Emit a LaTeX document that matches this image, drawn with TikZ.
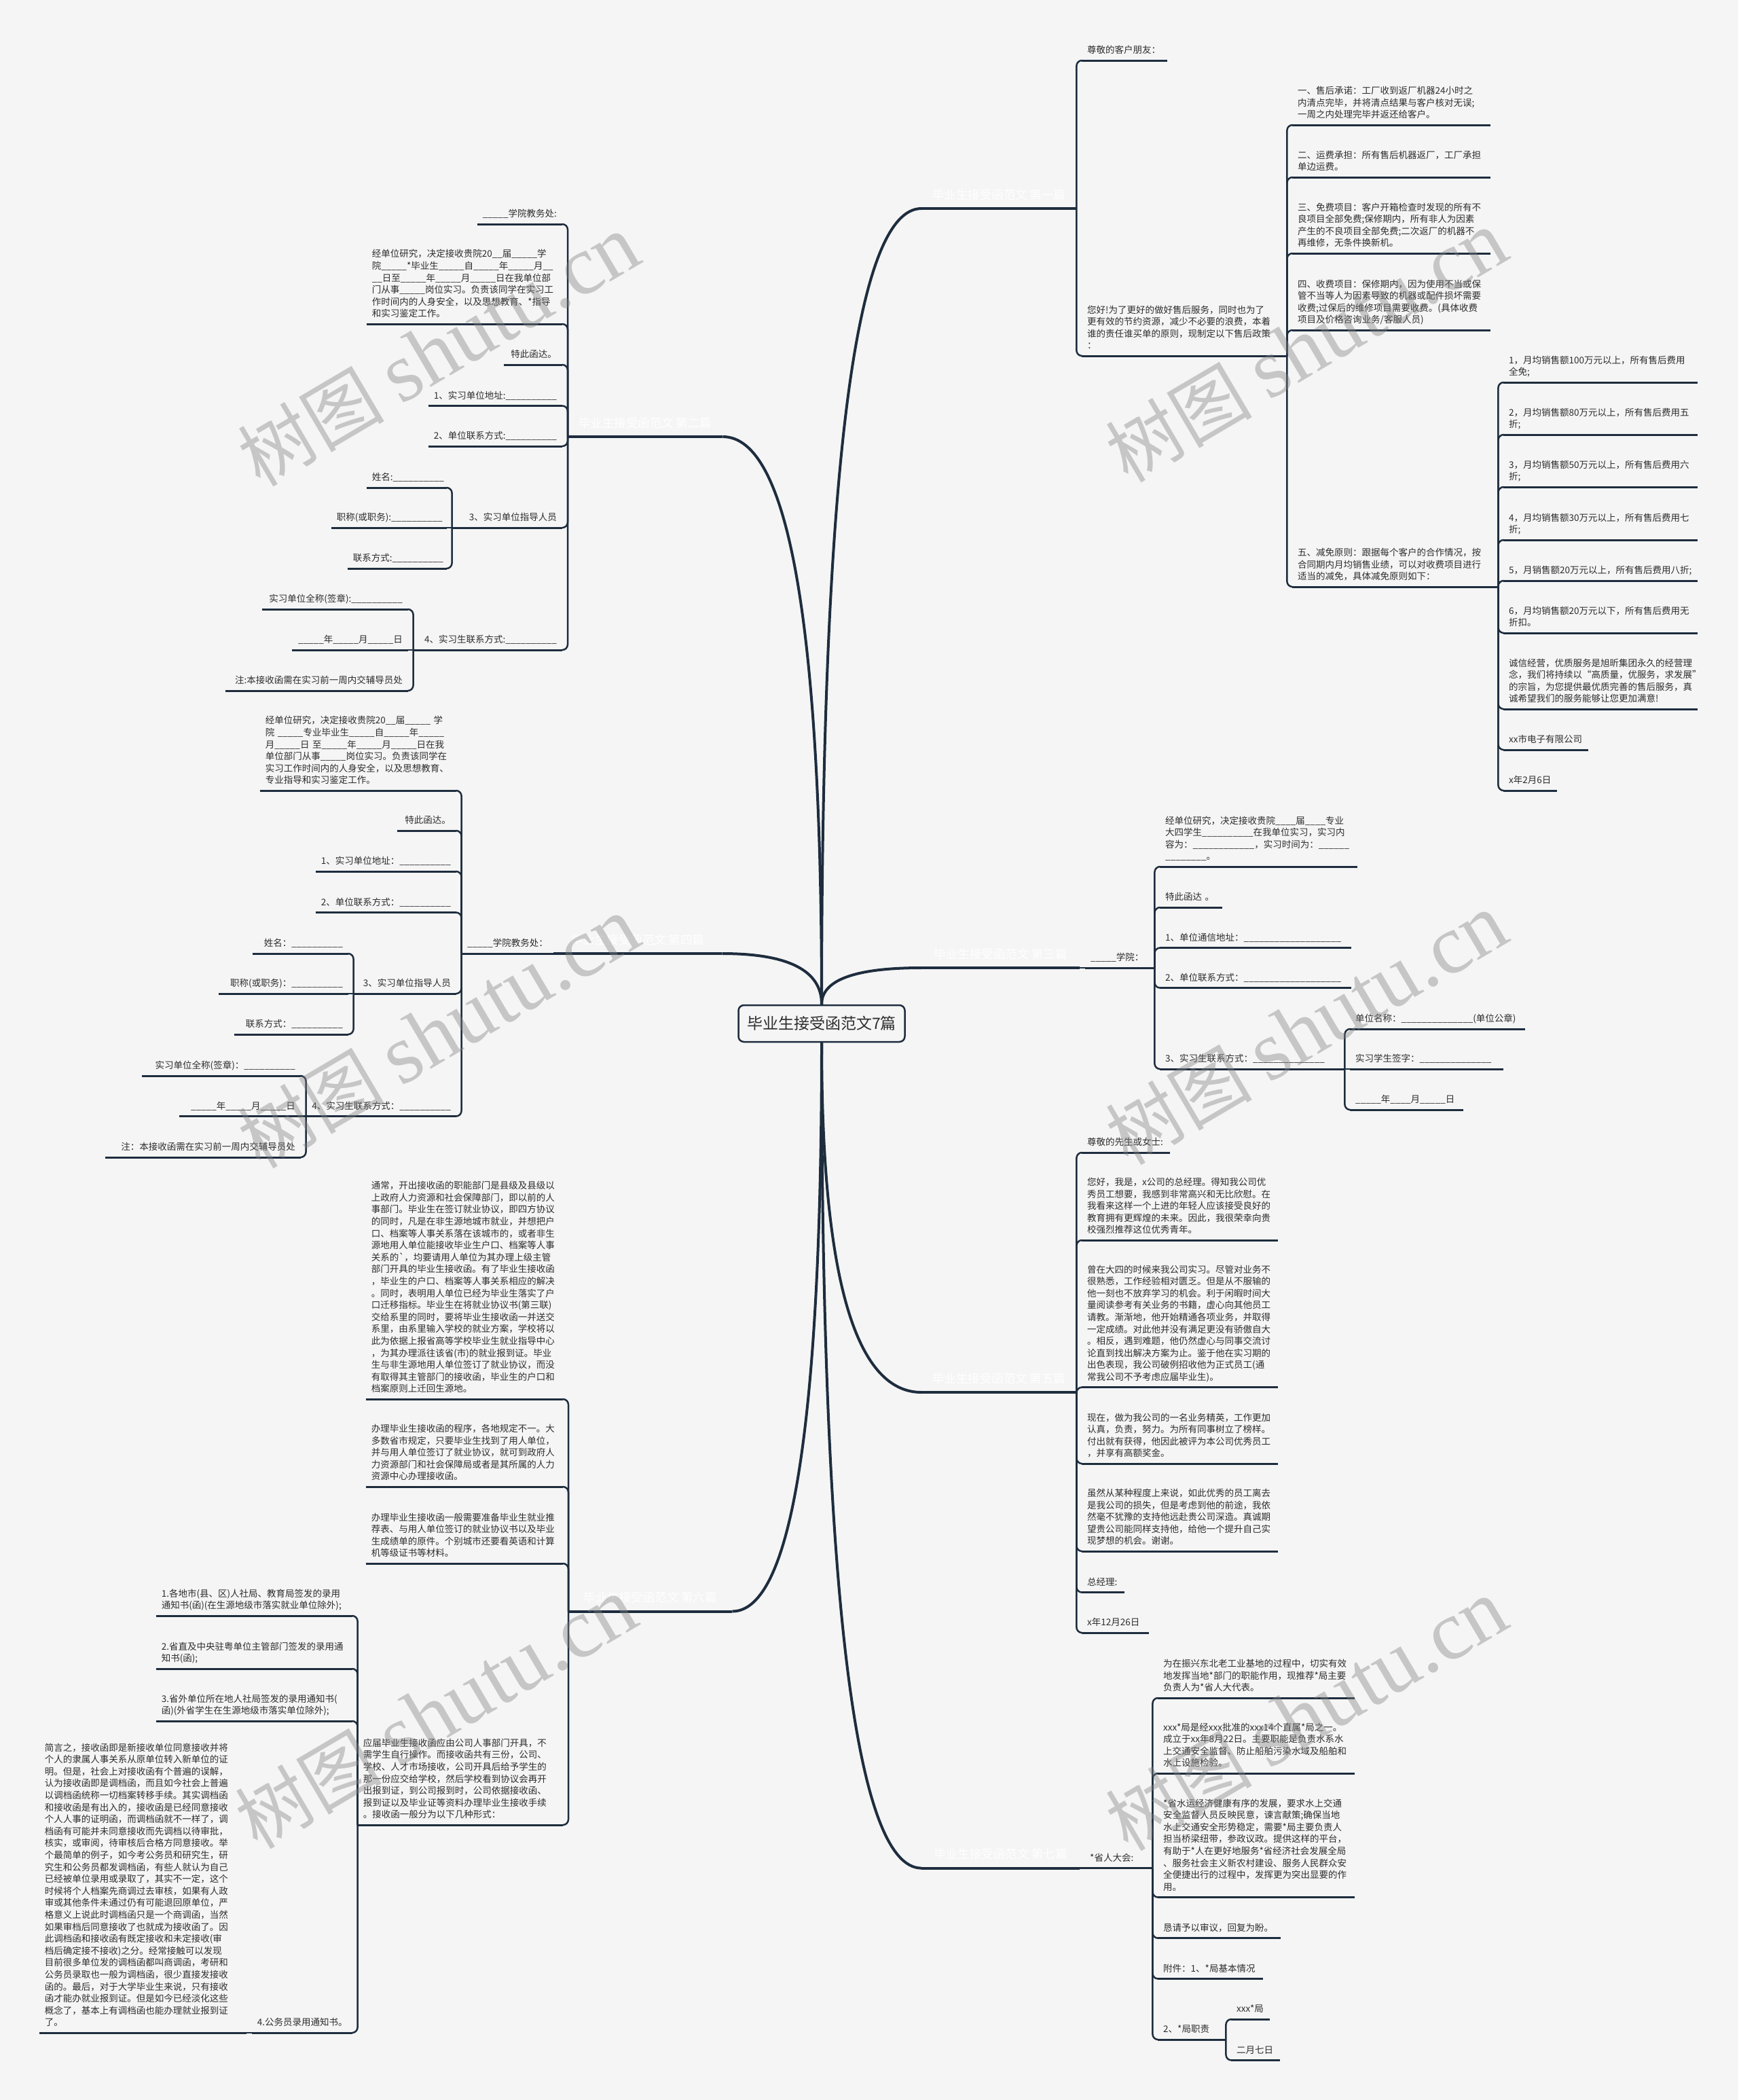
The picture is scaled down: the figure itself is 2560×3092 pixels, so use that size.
\documentclass[tikz,border=0pt]{standalone}
\usepackage{fontspec}
\setmainfont{Noto Sans CJK SC}
\newfontfamily\wmserif[Scale=1.15]{Liberation Serif}
\usetikzlibrary{calc}
\definecolor{bgc}{RGB}{245,245,245}
\definecolor{lnc}{RGB}{30,45,62}
\definecolor{txc}{RGB}{45,45,45}
\newcount\uscount
\newcommand\us[1]{\setbox0\hbox{\_}\uscount=\numexpr\dimexpr#1pt\relax/\wd0\relax\loop\ifnum\uscount>0 \_\advance\uscount-1 \repeat}
\pgfdeclarelayer{back}
\pgfdeclarelayer{conn}
\pgfdeclarelayer{front}
\pgfsetlayers{back,conn,main,front}
\tikzset{
  ulline/.style={draw=lnc,line width=3pt},
  trunkline/.style={draw=lnc,line width=4pt},
  br/.style={draw=lnc,line width=2.5pt,rounded corners=8pt},
  base/.style={font=\fontsize{13.5}{17.6}\selectfont,text=txc,inner xsep=8pt,inner ysep=4.7pt,
    execute at end node=\strut,
    append after command={(\tikzlastnode.south west) edge[ulline] (\tikzlastnode.south east)}},
  rn/.style={base,align=left},
  ln/.style={base,align=right},
  lbl/.style={font=\fontsize{17.5}{22}\selectfont,text=white,inner xsep=0pt,inner ysep=7pt,
    execute at end node=\strut,
    append after command={(\tikzlastnode.south west) edge[trunkline] (\tikzlastnode.south east)}},
  wm/.style={text=black!50,text opacity=0.4,rotate=30.5,font=\fontsize{108}{120}\selectfont,inner sep=0pt},
}
\newcommand\RNode[6][]{\node[rn,#1,text width=\the\numexpr#4-#3-16\relax pt,anchor=south west] (#2) at (#3,#5) {#6};}
\newcommand\LNode[6][]{\node[ln,#1,text width=\the\numexpr#4-#3-16\relax pt,anchor=south east] (#2) at (#4,#5) {#6};}
\newcommand\trunk[2]{\draw[trunkline] (#1) .. controls ($(#1)!0.6667!(#1 |- #2)$) and ($(#2)!0.6667!(#1 |- #2)$) .. (#2);}
\begin{document}
\begin{tikzpicture}[x=1pt,y=-1pt]
\begin{pgfonlayer}{back}
\fill[bgc] (0,0) rectangle (2560,3092);
\end{pgfonlayer}
\useasboundingbox (0,0) rectangle (2560,3092);

% centre
\node[draw=lnc,line width=2.5pt,fill=bgc,rounded corners=8pt,minimum width=245pt,minimum height=54pt,
  inner sep=0pt,font=\fontsize{23}{28}\selectfont,text=txc] (T) at (1210,1507) {毕业生接受函范文7篇};

% ---------- branch 1 ----------
\node[lbl,minimum width=228pt,anchor=south west] (L1) at (1357,307) {毕业生接受函范文 第一篇};
\RNode{a1}{1593}{1719}{89}{尊敬的客户朋友：}
\RNode{a2}{1593}{1895}{524}{您好!为了更好的做好售后服务，同时也为了\\更有效的节约资源，减少不必要的浪费，本着\\谁的责任谁买单的原则，现制定以下售后政策\\：}
\RNode{a21}{1903}{2195}{184}{一、售后承诺：工厂收到返厂机器24小时之\\内清点完毕，并将清点结果与客户核对无误;\\一周之内处理完毕并返还给客户。}
\RNode{a22}{1903}{2195}{261}{二、运费承担：所有售后机器返厂，工厂承担\\单边运费。}
\RNode{a23}{1903}{2195}{373}{三、免费项目：客户开箱检查时发现的所有不\\良项目全部免费;保修期内，所有非人为因素\\产生的不良项目全部免费;二次返厂的机器不\\再维修，无条件换新机。}
\RNode{a24}{1903}{2195}{486}{四、收费项目：保修期内，因为使用不当或保\\管不当等人为因素导致的机器或配件损坏需要\\收费;过保后的维修项目需要收费。(具体收费\\项目及价格咨询业务/客服人员)}
\RNode{a25}{1903}{2206}{864}{五、减免原则：跟据每个客户的合作情况，按\\合同期内月均销售业绩，可以对收费项目进行\\适当的减免，具体减免原则如下：}
\RNode{a251}{2214}{2500}{563}{1，月均销售额100万元以上，所有售后费用\\全免;}
\RNode{a252}{2214}{2500}{640}{2，月均销售额80万元以上，所有售后费用五\\折;}
\RNode{a253}{2214}{2500}{717}{3，月均销售额50万元以上，所有售后费用六\\折;}
\RNode{a254}{2214}{2500}{795}{4，月均销售额30万元以上，所有售后费用七\\折;}
\RNode{a255}{2214}{2500}{855}{5，月销售额20万元以上，所有售后费用八折;}
\RNode{a256}{2214}{2500}{932}{6，月均销售额20万元以下，所有售后费用无\\折扣。}
\RNode{a257}{2214}{2500}{1044}{诚信经营，优质服务是旭昕集团永久的经营理\\念，我们将持续以“高质量，优服务，求发展”\\的宗旨，为您提供最优质完善的售后服务，真\\诚希望我们的服务能够让您更加满意!}
\RNode{a258}{2214}{2339}{1104}{xx市电子有限公司}
\RNode{a259}{2214}{2293}{1164}{x年2月6日}

% ---------- branch 2 ----------
\node[lbl,minimum width=228pt,anchor=south west] (L2) at (836,643) {毕业生接受函范文 第二篇};
\LNode{b1}{703}{828}{330}{\us{35}学院教务处:}
\LNode[align=left]{b2}{540}{828}{477}{经单位研究，决定接收贵院20\us{16}届\us{36}学\\院\us{36}*毕业生\us{36}自\us{36}年\us{36}月\us{16}\\\us{16}日至\us{36}年\us{36}月\us{36}日在我单位部\\门从事\us{36}岗位实习。负责该同学在实习工\\作时间内的人身安全，以及思想教育、*指导\\和实习鉴定工作。}
\LNode{b3}{742}{828}{537}{特此函达。}
\LNode{b4}{631}{828}{597.5}{1、实习单位地址:\us{73}}
\LNode{b5}{631}{828}{657}{2、单位联系方式:\us{73}}
\LNode{b6}{666}{828}{777}{3、实习单位指导人员}
\LNode{b61}{540}{658}{718}{姓名:\us{72}}
\LNode{b62}{488}{658}{777}{职称(或职务):\us{72}}
\LNode{b63}{512}{658}{837}{联系方式:\us{72}}
\LNode{b7}{609}{828}{957}{4、实习生联系方式:\us{73}}
\LNode{b71}{386}{601}{897}{实习单位全称(签章):\us{73}}
\LNode{b72}{430}{601}{957}{\us{37}年\us{36}月\us{36}日}
\LNode{b73}{332}{601}{1017}{注:本接收函需在实习前一周内交辅导员处}

% ---------- branch 3 ----------
\node[lbl,minimum width=233pt,anchor=south west] (L3) at (1357,1425) {毕业生接受函范文 第三篇};
\RNode{c0}{1598}{1700}{1425}{\us{34}学院：}
\RNode{c1}{1708}{1999}{1276}{经单位研究，决定接收贵院\us{33}届\us{27}专业\\大四学生\us{72}在我单位实习，实习内\\容为：\us{88}，实习时间为：\us{42}\\\us{59}。}
\RNode{c2}{1708}{1800}{1336}{特此函达 。}
\RNode{c3}{1708}{1990}{1395.5}{1、单位通信地址：\us{145}}
\RNode{c4}{1708}{1990}{1454.5}{2、单位联系方式：\us{145}}
\RNode{c5}{1708}{1980}{1574}{3、实习生联系方式：\us{107}}
\RNode{c51}{1988}{2246}{1515}{单位名称：\us{109}(单位公章)}
\RNode{c52}{1988}{2214}{1574}{实习学生签字：\us{109}}
\RNode{c53}{1988}{2155}{1634}{\us{34}年\us{32}月\us{35}日}

% ---------- branch 4 ----------
\node[lbl,minimum width=248pt,anchor=south west] (L4) at (815,1404) {毕业生接受函范文 第四篇};
\LNode{d0}{680}{815}{1404}{\us{37}学院教务处：}
\LNode[align=left]{d1}{383}{672}{1164}{经单位研究，决定接收贵院20\us{16}届\us{36}~学\\院~\us{36}专业毕业生\us{36}自\us{36}年\us{36}\\月\us{36}日~至\us{36}年\us{36}月\us{36}日在我\\单位部门从事\us{36}岗位实习。负责该同学在\\实习工作时间内的人身安全，以及思想教育、\\专业指导和实习鉴定工作。}
\LNode{d2}{585}{672}{1223}{特此函达。}
\LNode{d3}{465}{672}{1283}{1、实习单位地址：\us{73}}
\LNode{d4}{465}{672}{1343.5}{2、单位联系方式：\us{73}}
\LNode{d5}{521}{672}{1463}{3、实习单位指导人员}
\LNode{d51}{372}{513}{1404}{姓名：\us{72}}
\LNode{d52}{322}{513}{1463}{职称(或职务)：\us{72}}
\LNode{d53}{345}{513}{1523}{联系方式：\us{72}}
\LNode{d6}{451}{672}{1643.5}{4、实习生联系方式：\us{73}}
\LNode{d61}{209}{443}{1584}{实习单位全称(签章)：\us{72}}
\LNode{d62}{264}{443}{1643.5}{\us{35}年\us{34}月\us{34}日}
\LNode{d63}{155}{443}{1704}{注：本接收函需在实习前一周内交辅导员处}

% ---------- branch 5 ----------
\node[lbl,minimum width=228pt,anchor=south west] (L5) at (1357,2050) {毕业生接受函范文 第五篇};
\RNode{e1}{1593}{1723}{1697}{尊敬的先生或女士:}
\RNode{e2}{1593}{1882}{1826}{您好，我是，x公司的总经理。得知我公司优\\秀员工想要，我感到非常高兴和无比欣慰。在\\我看来这样一个上进的年轻人应该接受良好的\\教育拥有更辉煌的未来。因此，我很荣幸向贵\\校强烈推荐这位优秀青年。}
\RNode{e3}{1593}{1882}{2042.6}{曾在大四的时候来我公司实习。尽管对业务不\\很熟悉，工作经验相对匮乏。但是从不服输的\\他一刻也不放弃学习的机会。利于闲暇时间大\\量阅读参考有关业务的书籍，虚心向其他员工\\请教。渐渐地，他开始精通各项业务，并取得\\一定成绩。对此他并没有满足更没有骄傲自大\\。相反，遇到难题，他仍然虚心与同事交流讨\\论直到找出解决方案为止。鉴于他在实习期的\\出色表现，我公司破例招收他为正式员工(通\\常我公司不予考虑应届毕业生)。}
\RNode{e4}{1593}{1882}{2155}{现在，做为我公司的一名业务精英，工作更加\\认真，负责，努力。为所有同事树立了榜样。\\付出就有获得，他因此被评为本公司优秀员工\\，并享有高额奖金。}
\RNode{e5}{1593}{1882}{2284}{虽然从某种程度上来说，如此优秀的员工离去\\是我公司的损失，但是考虑到他的前途，我依\\然毫不犹豫的支持他远赴贵公司深造。真诚期\\望贵公司能同样支持他，给他一个提升自己实\\现梦想的机会。谢谢。}
\RNode{e6}{1593}{1656}{2344.6}{总经理:}
\RNode{e7}{1593}{1692}{2404}{x年12月26日}

% ---------- branch 6 ----------
\node[lbl,minimum width=241pt,anchor=south west] (L6) at (837,2372.5) {毕业生接受函范文 第六篇};
\LNode[align=left]{f1}{539}{829}{2060}{通常，开出接收函的职能部门是县级及县级以\\上政府人力资源和社会保障部门，即以前的人\\事部门。毕业生在签订就业协议，即四方协议\\的同时，凡是在非生源地城市就业，并想把户\\口、档案等人事关系落在该城市的，或者非生\\源地用人单位能接收毕业生户口、档案等人事\\关系的\textasciigrave，均要请用人单位为其办理上级主管\\部门开具的毕业生接收函。有了毕业生接收函\\，毕业生的户口、档案等人事关系相应的解决\\。同时，表明用人单位已经为毕业生落实了户\\口迁移指标。毕业生在将就业协议书(第三联)\\交给系里的同时，要将毕业生接收函一并送交\\系里，由系里输入学校的就业方案，学校将以\\此为依据上报省高等学校毕业生就业指导中心\\，为其办理派往该省(市)的就业报到证。毕业\\生与非生源地用人单位签订了就业协议，而没\\有取得其主管部门的接收函，毕业生的户口和\\档案原则上迁回生源地。}
\LNode[align=left]{f2}{539}{829}{2189}{办理毕业生接收函的程序，各地规定不一。大\\多数省市规定，只要毕业生找到了用人单位，\\并与用人单位签订了就业协议，就可到政府人\\力资源部门和社会保障局或者是其所属的人力\\资源中心办理接收函。}
\LNode[align=left]{f3}{539}{829}{2302}{办理毕业生接收函一般需要准备毕业生就业推\\荐表、与用人单位签订的就业协议书以及毕业\\生成绩单的原件。个别城市还要看英语和计算\\机等级证书等材料。}
\LNode[align=left]{f4}{527}{829}{2687}{应届毕业生接收函应由公司人事部门开具，不\\需学生自行操作。而接收函共有三份，公司、\\学校、人才市场接收，公司开具后给予学生的\\那一份应交给学校，然后学校看到协议会再开\\出报到证，到公司报到时，公司依据接收函、\\报到证以及毕业证等资料办理毕业生接收手续\\。接收函一般分为以下几种形式：}
\LNode[align=left]{f41}{230}{519}{2379}{1.各地市(县、区)人社局、教育局签发的录用\\通知书(函)(在生源地级市落实就业单位除外);}
\LNode[align=left]{f42}{230}{519}{2457}{2.省直及中央驻粤单位主管部门签发的录用通\\知书(函);}
\LNode[align=left]{f43}{230}{519}{2534}{3.省外单位所在地人社局签发的录用通知书(\\函)(外省学生在生源地级市落实单位除外);}
\LNode{f44}{371}{519}{2993}{4.公务员录用通知书。}
\LNode[align=left]{f441}{58}{363}{2993}{简言之，接收函即是新接收单位同意接收并将\\个人的隶属人事关系从原单位转入新单位的证\\明。但是，社会上对接收函有个普遍的误解，\\认为接收函即是调档函，而且如今社会上普遍\\以调档函统称一切档案转移手续。其实调档函\\和接收函是有出入的，接收函是已经同意接收\\个人人事的证明函，而调档函就不一样了，调\\档函有可能并未同意接收而先调档以待审批，\\核实，或审阅，待审核后合格方同意接收。举\\个最简单的例子，如今考公务员和研究生，研\\究生和公务员都发调档函，有些人就认为自己\\已经被单位录用或录取了，其实不一定，这个\\时候将个人档案先商调过去审核，如果有人政\\审或其他条件未通过仍有可能退回原单位，严\\格意义上说此时调档函只是一个商调函，当然\\如果审档后同意接收了也就成为接收函了。因\\此调档函和接收函有既定接收和未定接收(审\\档后确定接不接收)之分。经常接触可以发现\\目前很多单位发的调档函都叫商调函，考研和\\公务员录取也一般为调档函，很少直接发接收\\函的。最后，对于大学毕业生来说，只有接收\\函才能办就业报到证。但是如今已经淡化这些\\概念了，基本上有调档函也能办理就业报到证\\了。}

% ---------- branch 7 ----------
\node[lbl,minimum width=233pt,anchor=south west] (L7) at (1357,2750.6) {毕业生接受函范文 第七篇};
\RNode{g0}{1597}{1697}{2750.6}{*省人大会:}
\RNode{g1}{1705}{1995}{2500}{为在振兴东北老工业基地的过程中，切实有效\\地发挥当地*部门的职能作用，现推荐*局主要\\负责人为*省人大代表。}
\RNode{g2}{1705}{1995}{2611}{xxx*局是经xxx批准的xxx14个直属*局之一。\\成立于xx年8月22日。主要职能是负责水系水\\上交通安全监督、防止船舶污染水域及船舶和\\水上设施检验。}
\RNode{g3}{1705}{1995}{2793.5}{*省水运经济健康有序的发展，要求水上交通\\安全监督人员反映民意，谏言献策;确保当地\\水上交通安全形势稳定，需要*局主要负责人\\担当桥梁纽带，参政议政。提供这样的平台，\\有助于*人在更好地服务*省经济社会发展全局\\、服务社会主义新农村建设、服务人民群众安\\全便捷出行的过程中，发挥更为突出显要的作\\用。}
\RNode{g4}{1705}{1886}{2853.7}{恳请予以审议，回复为盼。}
\RNode{g5}{1705}{1860}{2913.5}{附件：1、*局基本情况}
\RNode{g6}{1705}{1805}{3003}{2、*局职责}
\RNode{g61}{1813}{1870}{2973}{xxx*局}
\RNode{g62}{1813}{1885}{3033.4}{二月七日}

% ---------- connectors ----------
\begin{pgfonlayer}{conn}
\trunk{T.north}{L1.south west}
\trunk{T.north}{L2.south east}
\trunk{T.north}{L3.south west}
\trunk{T.north}{L4.south east}
\trunk{T.south}{L5.south west}
\trunk{T.south}{L6.south east}
\trunk{T.south}{L7.south west}
% branch 1
\foreach \c in {a1,a2}{\draw[br] (L1.south east) |- (\c.south west);}
\foreach \c in {a21,a22,a23,a24,a25}{\draw[br] (a2.south east) |- (\c.south west);}
\foreach \c in {a251,a252,a253,a254,a255,a256,a257,a258,a259}{\draw[br] (a25.south east) |- (\c.south west);}
% branch 2
\foreach \c in {b1,b2,b3,b4,b5,b6,b7}{\draw[br] (L2.south west) |- (\c.south east);}
\foreach \c in {b61,b63}{\draw[br] (b6.south west) |- (\c.south east);}
\draw[br] (b6.south west) -- (b62.south east);
\foreach \c in {b71,b73}{\draw[br] (b7.south west) |- (\c.south east);}
\draw[br] (b7.south west) -- (b72.south east);
% branch 3
\draw[br] (L3.south east) -- (c0.south west);
\foreach \c in {c1,c2,c3,c4,c5}{\draw[br] (c0.south east) |- (\c.south west);}
\foreach \c in {c51,c53}{\draw[br] (c5.south east) |- (\c.south west);}
\draw[br] (c5.south east) -- (c52.south west);
% branch 4
\draw[br] (L4.south west) -- (d0.south east);
\foreach \c in {d1,d2,d3,d4,d5,d6}{\draw[br] (d0.south west) |- (\c.south east);}
\foreach \c in {d51,d53}{\draw[br] (d5.south west) |- (\c.south east);}
\draw[br] (d5.south west) -- (d52.south east);
\foreach \c in {d61,d63}{\draw[br] (d6.south west) |- (\c.south east);}
\draw[br] (d6.south west) -- (d62.south east);
% branch 5
\foreach \c in {e1,e2,e3,e4,e5,e6,e7}{\draw[br] (L5.south east) |- (\c.south west);}
% branch 6
\foreach \c in {f1,f2,f3,f4}{\draw[br] (L6.south west) |- (\c.south east);}
\foreach \c in {f41,f42,f43,f44}{\draw[br] (f4.south west) |- (\c.south east);}
\draw[br] (f44.south west) -- (f441.south east);
% branch 7
\draw[br] (L7.south east) -- (g0.south west);
\foreach \c in {g1,g2,g3,g4,g5,g6}{\draw[br] (g0.south east) |- (\c.south west);}
\foreach \c in {g61,g62}{\draw[br] (g6.south east) |- (\c.south west);}
\end{pgfonlayer}

% ---------- watermarks ----------
\begin{pgfonlayer}{front}
\node[wm] (w1) at (646,516) {树图 {\wmserif shutu.cn}};
\node[wm] (w2) at (1924,510) {树图 {\wmserif shutu.cn}};
\node[wm] (w3) at (646,1520) {树图 {\wmserif shutu.cn}};
\node[wm] (w4) at (1924,1515) {树图 {\wmserif shutu.cn}};
\node[wm] (w5) at (642,2522) {树图 {\wmserif shutu.cn}};
\node[wm] (w6) at (1924,2525) {树图 {\wmserif shutu.cn}};
\end{pgfonlayer}
\end{tikzpicture}
\end{document}
